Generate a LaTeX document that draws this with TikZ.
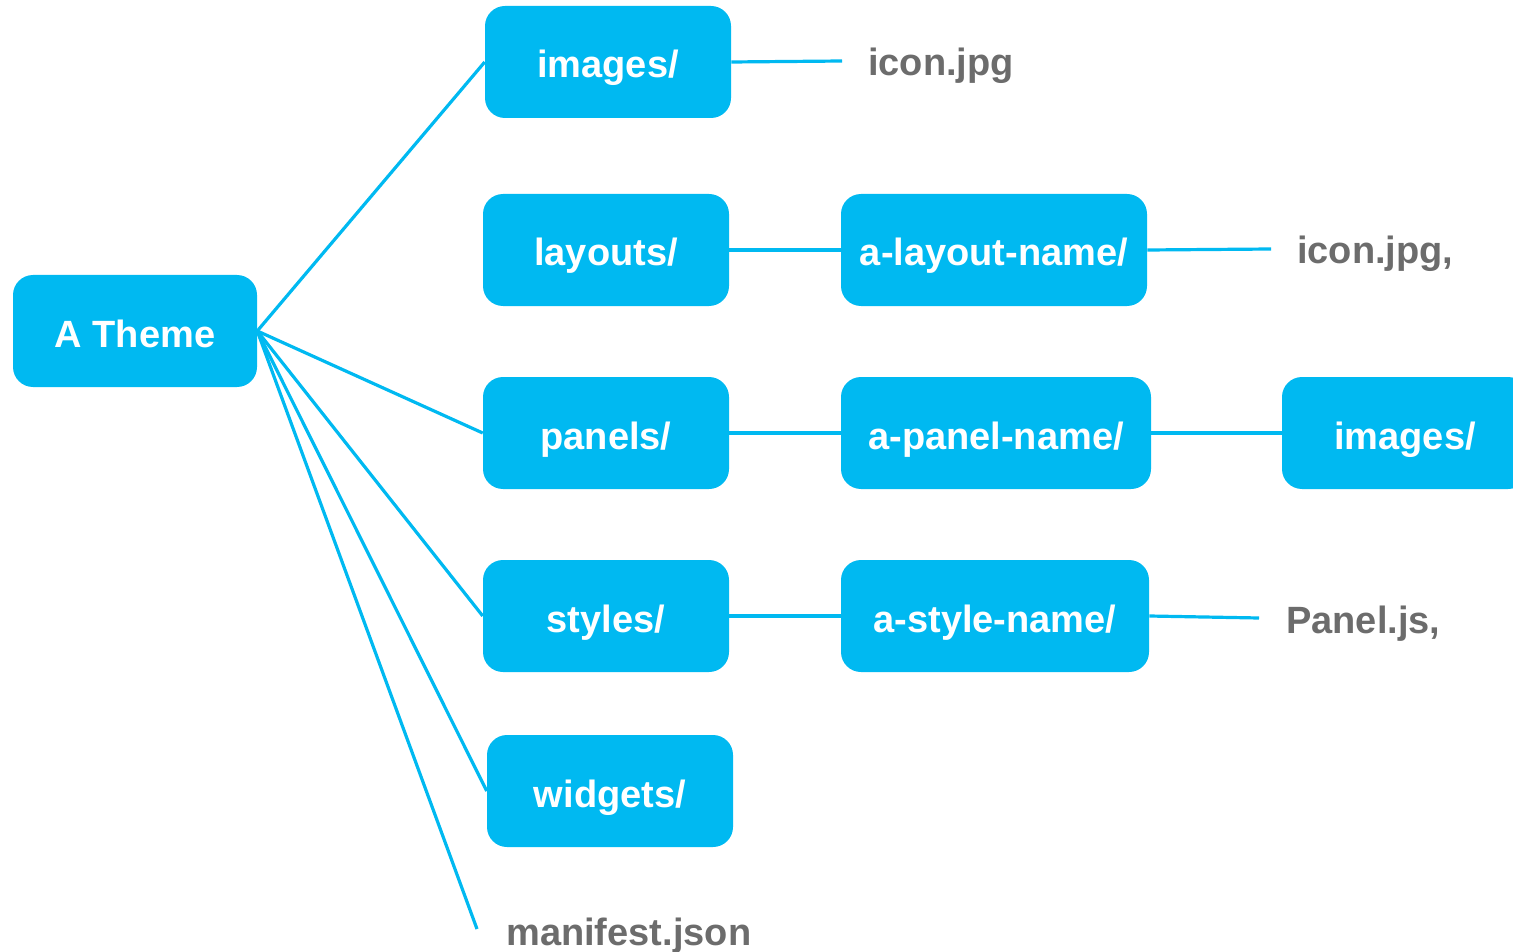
\documentclass[tikz,border=0pt]{standalone}
\usepackage{fontspec}
\setmainfont{Liberation Sans}
\usepackage{tikz}

\definecolor{dircyan}{RGB}{0,185,241}
\definecolor{filegray}{RGB}{108,108,108}

\tikzset{
  dirbox/.style={fill=dircyan, text=white, rounded corners=15pt, inner sep=0pt,
    minimum width=184.5pt, minimum height=84pt, text height=24pt, text depth=0pt,
    font=\fontsize{28.5}{34}\selectfont\bfseries},
  filetext/.style={anchor=base west, inner sep=0pt, text=filegray,
    font=\fontsize{28.5}{34}\selectfont\bfseries},
  link/.style={draw=dircyan, line width=2.4pt}
}

\begin{document}
\begin{tikzpicture}[x=0.75pt,y=0.75pt,yscale=-1,xscale=1]
\clip (0,0) rectangle (1513,952);

% Folder boxes
\node [dirbox, minimum width=183pt] (theme) at (135,331) {A Theme};
\node [dirbox] (images) at (608,62) {images/};
\node [dirbox] (layouts) at (606,250) {layouts/};
\node [dirbox, minimum width=229.5pt] (layoutname) at (994,250) {a-layout-name/};
\node [dirbox] (panels) at (606,433) {panels/};
\node [dirbox, minimum width=232.5pt] (panelname) at (996,433) {a-panel-name/};
\node [dirbox] (panelimages) at (1405,433) {images/};
\node [dirbox] (styles) at (606,616) {styles/};
\node [dirbox, minimum width=231pt] (stylename) at (995,616) {a-style-name/};
\node [dirbox] (widgets) at (610,791) {widgets/};

% Text Node
\node [filetext] (iconA) at (868,76) {icon.jpg};
% Text Node
\node [filetext] (iconB) at (1297,264) {icon.jpg,};
% Text Node
\node [filetext] (paneljs) at (1286,633) {Panel.js,};
% Text Node
\node [filetext] (manifest) at (506,945) {manifest.json};

% Free line ends
\coordinate (imagesend) at (842,61);
\coordinate (layoutend) at (1271,249);
\coordinate (styleend) at (1259,618);
\coordinate (manifestend) at (477,929);

% Connectors
\draw [link] (theme.east) -- (images.west);
\draw [link] (theme.east) -- (panels.west);
\draw [link] (theme.east) -- (styles.west);
\draw [link] (theme.east) -- (widgets.west);
\draw [link] (theme.east) -- (manifestend);
\draw [link] (images.east) -- (imagesend);
\draw [link] (layouts.east) -- (layoutname.west);
\draw [link] (layoutname.east) -- (layoutend);
\draw [link] (panels.east) -- (panelname.west);
\draw [link] (panelname.east) -- (panelimages.west);
\draw [link] (styles.east) -- (stylename.west);
\draw [link] (stylename.east) -- (styleend);

\end{tikzpicture}
\end{document}
